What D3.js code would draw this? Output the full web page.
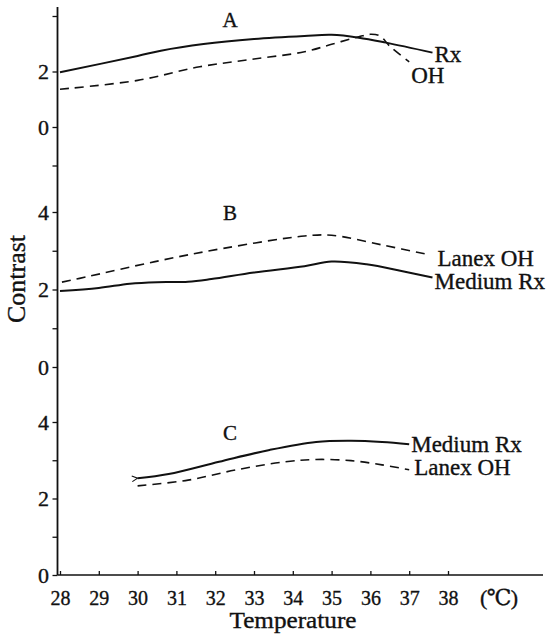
<!DOCTYPE html>
<html>
<head>
<meta charset="utf-8">
<script src="https://cdn.jsdelivr.net/npm/d3@7"></script>
<style>
  html, body { margin: 0; padding: 0; background: #fff; }
  svg text { font-family: "Liberation Serif", "DejaVu Serif", serif; fill: #111; stroke: #111; stroke-width: 0.35px; }
</style>
</head>
<body>
<svg id="chart" width="557" height="634"></svg>
<script>
// ---------------- data ----------------
const tempTicks = [28, 29, 30, 31, 32, 33, 34, 35, 36, 37, 38];

// Panel A
const tempA_Rx     = [28, 30.0, 30.6, 31.7, 33.0, 34.3, 35.0, 35.7, 36.4, 37.6];
const contrastA_Rx = [1.97, 2.56, 2.75, 2.99, 3.17, 3.28, 3.32, 3.22, 3.04, 2.68];
const tempA_OH     = [28, 30.0, 31.6, 33.0, 34.3, 35.0, 35.7, 36.0, 36.25, 36.5, 37.0];
const contrastA_OH = [1.36, 1.68, 2.17, 2.45, 2.71, 2.98, 3.25, 3.34, 3.28, 2.91, 2.35];

// Panel B
const tempB_Rx     = [28, 29.0, 29.8, 30.5, 31.3, 31.9, 33.0, 34.3, 35.0, 35.9, 36.8, 37.6];
const contrastB_Rx = [1.96, 2.04, 2.15, 2.19, 2.20, 2.27, 2.44, 2.60, 2.72, 2.65, 2.48, 2.31];
const tempB_OH     = [28.05, 28.7, 30.45, 32.2, 34.3, 35.0, 36.3, 37.55];
const contrastB_OH = [2.19, 2.33, 2.72, 3.06, 3.38, 3.40, 3.15, 2.89];

// Panel C
const tempC_Rx     = [30, 30.8, 32.1, 33.4, 34.6, 35.5, 36.3, 37.0];
const contrastC_Rx = [2.53, 2.64, 2.96, 3.27, 3.48, 3.51, 3.48, 3.42];
const tempC_OH     = [30, 31.3, 32.55, 33.8, 34.6, 35.5, 36.3, 37.0];
const contrastC_OH = [2.33, 2.48, 2.75, 2.96, 3.02, 2.99, 2.88, 2.75];

// Y-axis ticks per panel
const ticksA = [0, 2, 4];            const labelsA = ["0", "2", ""];
const ticksB = [0, 1, 2, 3, 4, 5.2]; const labelsB = ["0", "", "2", "", "4", ""];
const ticksC = [0, 1, 2, 3, 4];      const labelsC = ["0", "", "2", "", "4"];

const panelNames = ["A", "B", "C"];
const seriesLabels = {
  A: ["Rx", "OH"],
  B: ["Medium Rx", "Lanex OH"],
  C: ["Medium Rx", "Lanex OH"]
};

// ---------------- layout ----------------
const svg = d3.select("#chart");
const axisX = 57.5;
const x = d3.scaleLinear().domain([28, 38]).range([60, 448]);

const panels = [
  { name: panelNames[0], y: d3.scaleLinear().domain([0, 4]).range([127, 16]),
    ticks: ticksA, labels: labelsA,
    solid: { t: tempA_Rx, v: contrastA_Rx, label: seriesLabels.A[0], dx: 2, dy: 9 },
    dashed: { t: tempA_OH, v: contrastA_OH, label: seriesLabels.A[1], dx: 2, dy: 21 },
    titleY: 27 },
  { name: panelNames[1], y: d3.scaleLinear().domain([0, 4]).range([367, 212]),
    ticks: ticksB, labels: labelsB,
    solid: { t: tempB_Rx, v: contrastB_Rx, label: seriesLabels.B[0], dx: 2, dy: 12 },
    dashed: { t: tempB_OH, v: contrastB_OH, label: seriesLabels.B[1], dx: 7, dy: 11 },
    titleY: 220 },
  { name: panelNames[2], y: d3.scaleLinear().domain([0, 4]).range([575, 422]),
    ticks: ticksC, labels: labelsC,
    solid: { t: tempC_Rx, v: contrastC_Rx, label: seriesLabels.C[0], dx: 2, dy: 8, arrow: true },
    dashed: { t: tempC_OH, v: contrastC_OH, label: seriesLabels.C[1], dx: 5, dy: 5 },
    titleY: 440 }
];

// arrow marker
svg.append("defs").append("marker")
  .attr("id", "arrow").attr("viewBox", "0 0 10 10")
  .attr("refX", 1).attr("refY", 5)
  .attr("markerWidth", 7).attr("markerHeight", 7)
  .attr("markerUnits", "userSpaceOnUse")
  .attr("orient", "auto-start-reverse")
  .append("path").attr("d", "M9,1 L1,5 L9,9")
  .attr("fill", "none").attr("stroke", "#111").attr("stroke-width", 1.5);

// Y axis main line
svg.append("line")
  .attr("x1", axisX).attr("x2", axisX).attr("y1", 7).attr("y2", 575)
  .attr("stroke", "#111").attr("stroke-width", 1.8);

// X axis line
svg.append("line")
  .attr("x1", axisX).attr("x2", 543).attr("y1", 575).attr("y2", 575)
  .attr("stroke", "#111").attr("stroke-width", 1.6);

// X axis ticks
const xAxis = d3.axisBottom(x).tickValues(tempTicks).tickSize(5).tickPadding(9)
  .tickFormat(d3.format("d"));
const gx = svg.append("g").attr("transform", "translate(0,575)").call(xAxis);
gx.select(".domain").remove();
gx.selectAll(".tick line").attr("stroke", "#111").attr("stroke-width", 1.3)
  .attr("y1", -4).attr("y2", 0);
gx.selectAll(".tick text").attr("font-size", 22).attr("fill", "#111")
  .style("font-family", "'Liberation Serif', serif")
  .attr("textLength", 20).attr("lengthAdjust", "spacingAndGlyphs");

// unit label
svg.append("text").attr("x", x(38) + 32).attr("y", 605)
  .attr("font-size", 22).attr("textLength", 38).attr("lengthAdjust", "spacing")
  .text("(℃)");

// X title
svg.append("text").attr("x", 293).attr("y", 628).attr("text-anchor", "middle")
  .attr("font-size", 23).attr("textLength", 127).attr("lengthAdjust", "spacingAndGlyphs")
  .text("Temperature");

// Y title
svg.append("text").attr("transform", "translate(25,279) rotate(-90)")
  .attr("text-anchor", "middle").attr("font-size", 25)
  .attr("textLength", 88).attr("lengthAdjust", "spacingAndGlyphs")
  .text("Contrast");

const line = d3.line().curve(d3.curveCatmullRom.alpha(0.5));

panels.forEach(p => {
  // y axis ticks
  const yAxis = d3.axisLeft(p.y).tickValues(p.ticks).tickSize(5).tickPadding(3.5)
    .tickFormat((d, i) => p.labels[i]);
  const gy = svg.append("g").attr("transform", `translate(${axisX},0)`).call(yAxis);
  gy.select(".domain").remove();
  gy.selectAll(".tick line").attr("stroke", "#111").attr("stroke-width", 1.3);
  gy.selectAll(".tick text").attr("font-size", 22).attr("fill", "#111")
    .style("font-family", "'Liberation Serif', serif");

  // panel title
  svg.append("text").attr("x", 230).attr("y", p.titleY).attr("text-anchor", "middle")
    .attr("font-size", 21).text(p.name);

  // lines
  [["solid", null, 2], ["dashed", "9,6", 1.6]].forEach(([key, dash, w]) => {
    const s = p[key];
    const pts = s.t.map((t, i) => [x(t), p.y(s.v[i])]);
    const path = svg.append("path").attr("d", line(pts))
      .attr("fill", "none").attr("stroke", "#111").attr("stroke-width", w);
    if (dash) path.attr("stroke-dasharray", dash);
    if (s.arrow) path.attr("marker-start", "url(#arrow)");
    const last = pts[pts.length - 1];
    svg.append("text").attr("x", last[0] + s.dx).attr("y", last[1] + s.dy)
      .attr("font-size", 23).text(s.label);
  });
});
</script>
</body>
</html>
